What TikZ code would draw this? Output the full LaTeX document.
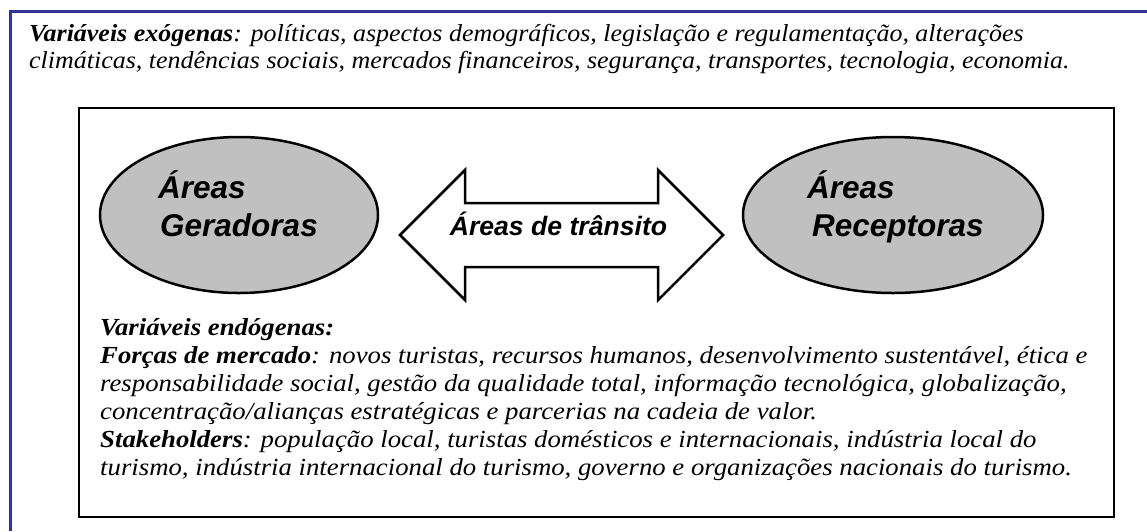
\documentclass[tikz,border=0pt]{standalone}
\usepackage{fontspec}
\setmainfont{Liberation Serif}
\newfontfamily\arialfont{Liberation Sans}
\usetikzlibrary{shapes.geometric}
\newcommand{\widetop}[1]{\scalebox{1.06}[1]{#1}}
\newcommand{\wideend}[1]{\scalebox{1.092}[1]{#1}}
\begin{document}
\begin{tikzpicture}[x=1pt,y=-1pt,
  outerline/.style={draw=outerblue,line width=3pt},
  innerbox/.style={draw=black,line width=2pt,fill=white},
  areaell/.style={draw=black,line width=2.5pt,fill=areagrey},
  transarrow/.style={draw=black,line width=2.5pt,fill=white,line join=miter},
  bigsans/.style={font=\arialfont\bfseries\itshape\fontsize{31.5}{36}\selectfont,inner sep=0pt,anchor=base west},
  midsans/.style={font=\arialfont\bfseries\itshape\fontsize{26.6}{30}\selectfont,inner sep=0pt,anchor=base},
  toptext/.style={font=\itshape\fontsize{24.5}{28}\selectfont,inner sep=0pt,anchor=base west},
  endtext/.style={font=\itshape\fontsize{24.5}{28}\selectfont,inner sep=0pt,anchor=base west}]
\definecolor{outerblue}{RGB}{51,51,153}
\definecolor{areagrey}{RGB}{192,192,192}
\definecolor{shadowgrey}{RGB}{128,128,128}
\useasboundingbox (0,0) rectangle (1147,531);
\fill[white] (0,0) rectangle (1147,531);
% outer frame (only left and top visible)
\coordinate (ob) at (10,531);
\coordinate (otl) at (10,11);
\coordinate (otr) at (1147,11);
\draw[outerline] (ob) -- (otl) -- (otr);
% top text
\node[toptext] (t1) at (29,41) {\widetop{\textbf{Variáveis exógenas}: políticas, aspectos demográficos, legislação e regulamentação, alterações}};
\node[toptext] (t2) at (29,68) {\widetop{climáticas, tendências sociais, mercados financeiros, segurança, transportes, tecnologia, economia.}};
% inner box with shadow
\fill[shadowgrey] (80,109) rectangle (1115,518);
\node[innerbox,minimum width=1035pt,minimum height=409pt,anchor=north west,inner sep=0pt] (ib) at (78,107) {};
% ellipses
\node[areaell,ellipse,minimum width=278pt,minimum height=156pt,inner sep=0pt] (eg) at (239,215) {};
\node[areaell,ellipse,minimum width=300pt,minimum height=156pt,inner sep=0pt] (er) at (893,215) {};
\node[bigsans] (eg1) at (158,198) {Áreas};
\node[bigsans] (eg2) at (160,236) {Geradoras};
\node[bigsans] (er1) at (807,198) {Áreas};
\node[bigsans] (er2) at (812,236) {Receptoras};
% double arrow
\draw[transarrow] (400,235) -- (465,170) -- (465,203) -- (658,203) -- (658,170) -- (723,235) -- (658,300) -- (658,267) -- (465,267) -- (465,300) -- cycle;
\node[midsans] (tr) at (558.5,235) {Áreas de trânsito};
% endogenous text
\node[endtext] (e1) at (100,335) {\wideend{\textbf{Variáveis endógenas:}}};
\node[endtext] (e2) at (100,363) {\wideend{\textbf{Forças de mercado}: novos turistas, recursos humanos, desenvolvimento sustentável, ética e}};
\node[endtext] (e3) at (100,391) {\wideend{responsabilidade social, gestão da qualidade total, informação tecnológica, globalização,}};
\node[endtext] (e4) at (100,419) {\wideend{concentração/alianças estratégicas e parcerias na cadeia de valor.}};
\node[endtext] (e5) at (100,447) {\wideend{\textbf{Stakeholders}: população local, turistas domésticos e internacionais, indústria local do}};
\node[endtext] (e6) at (100,475) {\wideend{turismo, indústria internacional do turismo, governo e organizações nacionais do turismo.}};
\end{tikzpicture}
\end{document}
